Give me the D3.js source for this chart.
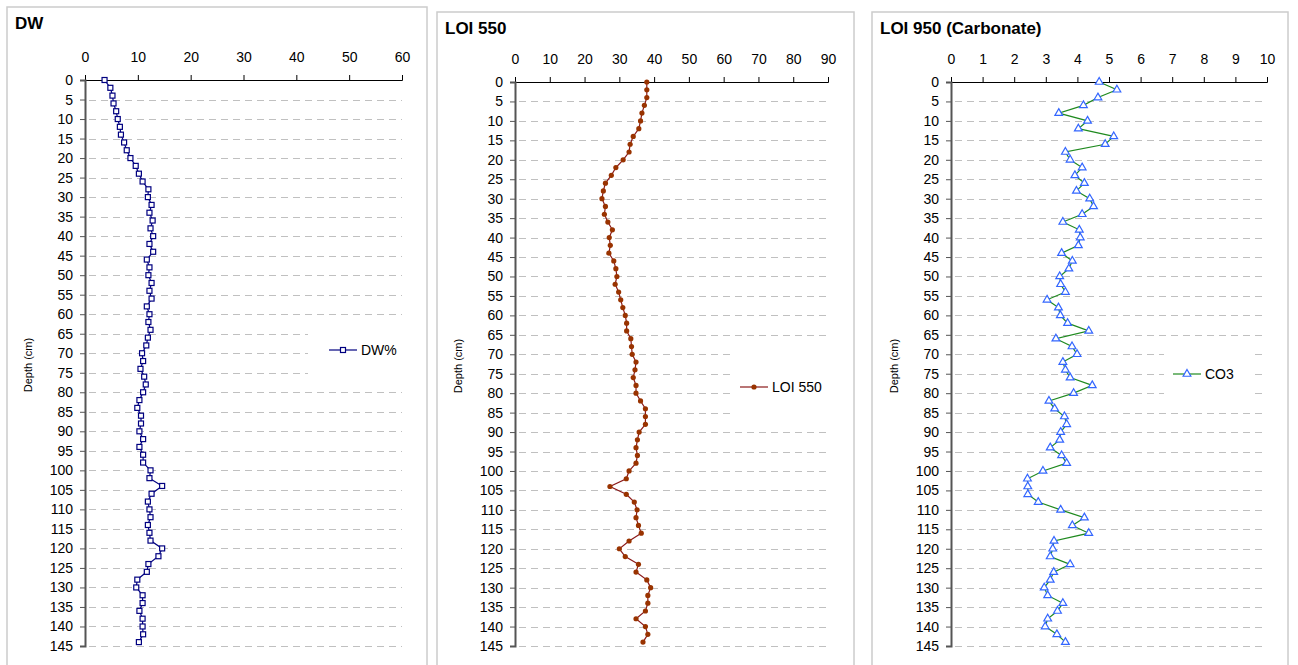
<!DOCTYPE html>
<html>
<head>
<meta charset="utf-8">
<script src="https://cdn.jsdelivr.net/npm/d3@7"></script>
<style>
  body { margin: 0; background: #fff; }
  svg { font-family: "Liberation Sans", Arial, sans-serif; }
</style>
</head>
<body>
<script>
// depth of each sample (cm)
var depths = [0, 2, 4, 6, 8, 10, 12, 14, 16, 18, 20, 22, 24, 26, 28, 30, 32, 34, 36, 38,
	40, 42, 44, 46, 48, 50, 52, 54, 56, 58, 60, 62, 64, 66, 68, 70, 72, 74, 76, 78,
	80, 82, 84, 86, 88, 90, 92, 94, 96, 98, 100, 102, 104, 106, 108, 110, 112, 114, 116, 118,
	120, 122, 124, 126, 128, 130, 132, 134, 136, 138, 140, 142, 144];

// dry weight %
var dw = [3.7, 4.8, 5.2, 5.4, 5.9, 6.2, 6.6, 6.8, 7.4, 7.9, 8.6, 9.6, 10.2, 10.9, 12.0, 11.9, 12.6, 12.2, 12.8, 12.4,
	12.9, 12.2, 12.9, 11.7, 12.2, 12.0, 12.6, 12.2, 12.6, 11.7, 12.2, 12.0, 12.4, 11.9, 11.6, 10.8, 11.0, 10.5, 11.2, 11.5,
	11.0, 10.3, 9.9, 10.6, 10.6, 10.3, 11.0, 10.3, 11.0, 11.0, 12.4, 12.2, 14.6, 12.6, 11.9, 12.2, 12.4, 11.9, 12.2, 12.4,
	14.6, 13.9, 12.0, 11.7, 9.9, 9.7, 10.9, 10.9, 10.3, 10.9, 10.9, 11.0, 10.2];

// loss on ignition 550
var loi550 = [37.9, 37.9, 37.9, 37.2, 36.5, 36.1, 35.6, 34.0, 33.1, 32.8, 31.1, 29.0, 27.7, 26.0, 25.4, 25.0, 26.0, 25.7, 26.7, 28.0,
	27.1, 27.4, 27.0, 28.4, 29.0, 29.3, 28.8, 29.8, 30.4, 31.0, 31.7, 32.1, 32.1, 33.3, 33.5, 33.7, 34.8, 34.5, 34.0, 34.8,
	34.8, 36.1, 37.5, 37.5, 37.5, 35.7, 35.2, 34.8, 35.2, 34.8, 32.8, 32.0, 27.3, 32.0, 34.3, 35.1, 34.8, 35.5, 36.3, 32.8,
	30.0, 31.7, 35.5, 34.8, 37.9, 39.0, 38.2, 38.2, 37.5, 34.8, 37.5, 38.2, 36.8];

// loss on ignition 950 (carbonate)
var co3 = [4.69, 5.25, 4.65, 4.19, 3.41, 4.32, 4.03, 5.15, 4.88, 3.62, 3.77, 4.15, 3.92, 4.22, 3.97, 4.39, 4.51, 4.15, 3.54, 4.06,
	4.09, 4.03, 3.50, 3.84, 3.73, 3.44, 3.47, 3.62, 3.04, 3.40, 3.46, 3.69, 4.36, 3.32, 3.83, 3.99, 3.54, 3.62, 3.77, 4.47,
	3.88, 3.10, 3.28, 3.59, 3.66, 3.47, 3.44, 3.14, 3.50, 3.66, 2.91, 2.42, 2.43, 2.43, 2.76, 3.47, 4.22, 3.84, 4.36, 3.26,
	3.22, 3.14, 3.77, 3.25, 3.14, 2.95, 3.06, 3.54, 3.37, 3.06, 2.98, 3.35, 3.62];

var titles = ['DW', 'LOI 550', 'LOI 950 (Carbonate)'];
var seriesNames = ['DW%', 'LOI 550', 'CO3'];
var xMax = [60, 90, 10];
var xMajor = [10, 10, 1];
var xMinor = [2, 2, 0.5];
var depthMax = 145;

var width = 1298,
	height = 665;

var svg = d3.select('body')
	.append('svg')
	.attr('width', width)
	.attr('height', height);

// layout of each panel
var panels = [
	{ box: [7, 7, 420], plotX: [85, 402], plotY: [80, 646], titleY: 29, labelX: 32,
		legend: { box: [308, 318, 105, 66], x: 329, y: 350 } },
	{ box: [437, 12, 417], plotX: [515, 828], plotY: [82, 646], titleY: 34, labelX: 462,
		legend: { box: [735, 352, 112, 66], x: 740, y: 387 } },
	{ box: [872, 12, 416], plotX: [951, 1267], plotY: [82, 646], titleY: 34, labelX: 898,
		legend: { box: [1164, 342, 90, 64], x: 1173, y: 374 } }
];

var values = [dw, loi550, co3];

// marker shapes for each series
var markers = [
	function(g) {
		g.append('rect').attr('x', -2.5).attr('y', -2.5).attr('width', 5).attr('height', 5)
			.attr('fill', '#fff').attr('stroke', '#000080').attr('stroke-width', 1.2);
	},
	function(g) {
		g.append('circle').attr('r', 2.6).attr('fill', '#993300').attr('stroke', 'none');
	},
	function(g) {
		g.append('path').attr('d', d3.symbol().type(d3.symbolTriangle).size(26))
			.attr('fill', '#fff').attr('stroke', '#3366ff').attr('stroke-width', 1.2);
	}
];
var lineColors = ['#000080', '#8b1a1a', '#1f8a1f'];

panels.forEach(function(p, i) {
	var g = svg.append('g');

	// panel frame
	g.append('rect')
		.attr('x', p.box[0]).attr('y', p.box[1])
		.attr('width', p.box[2]).attr('height', 700)
		.attr('fill', '#fff')
		.attr('stroke', '#cccccc')
		.attr('stroke-width', 1.5);

	g.append('text')
		.attr('x', p.box[0] + 8).attr('y', p.titleY)
		.attr('font-size', 17).attr('font-weight', 'bold')
		.text(titles[i]);

	var x = d3.scaleLinear().domain([0, xMax[i]]).range(p.plotX);
	var y = d3.scaleLinear().domain([0, depthMax]).range(p.plotY);

	var majorX = d3.range(0, xMax[i] + 1e-9, xMajor[i]);
	var minorX = d3.range(0, xMax[i] + 1e-9, xMinor[i]);
	var majorY = d3.range(0, depthMax + 1e-9, 5);
	var minorY = d3.range(0, depthMax + 1e-9, 2.5);

	// dashed gridlines
	g.append('g').selectAll('line')
		.data(majorY.slice(1))
		.enter().append('line')
		.attr('x1', p.plotX[0] + 4).attr('x2', p.plotX[1])
		.attr('y1', function(d) { return Math.round(y(d)) + 0.5; })
		.attr('y2', function(d) { return Math.round(y(d)) + 0.5; })
		.attr('stroke', '#c0c0c0')
		.attr('stroke-dasharray', '7,5');

	// top axis
	var xa = g.append('g')
		.attr('transform', 'translate(0,' + p.plotY[0] + ')');
	xa.call(d3.axisTop(x).tickValues(minorX).tickSize(4).tickFormat(''));
	xa.call(d3.axisTop(x).tickValues(majorX).tickSize(5).tickPadding(13)
		.tickFormat(d3.format('d')));
	xa.selectAll('text').attr('font-size', 14).attr('fill', '#000')
		.attr('font-family', '"Liberation Sans", Arial, sans-serif');
	xa.selectAll('path, line').attr('stroke', '#000');

	// left axis
	var ya = g.append('g')
		.attr('transform', 'translate(' + p.plotX[0] + ',0)');
	ya.call(d3.axisLeft(y).tickValues(minorY).tickSize(4).tickFormat(''));
	ya.call(d3.axisLeft(y).tickValues(majorY).tickSize(5).tickPadding(7)
		.tickFormat(d3.format('d')));
	ya.selectAll('text').attr('font-size', 14).attr('fill', '#000')
		.attr('font-family', '"Liberation Sans", Arial, sans-serif');
	ya.selectAll('line').attr('stroke', '#555');
	ya.selectAll('path').attr('stroke', '#555').attr('stroke-width', 2);

	g.append('text')
		.attr('transform', 'translate(' + p.labelX + ',' + ((p.plotY[0] + p.plotY[1]) / 2 + 2) + ') rotate(-90)')
		.attr('text-anchor', 'middle')
		.attr('font-size', 11)
		.text('Depth (cm)');

	// legend background
	g.append('rect')
		.attr('x', p.legend.box[0]).attr('y', p.legend.box[1])
		.attr('width', p.legend.box[2]).attr('height', p.legend.box[3])
		.attr('fill', '#fff');

	// series line
	var line = d3.line()
		.x(function(d) { return x(d); })
		.y(function(d, j) { return y(depths[j]); });

	g.append('path')
		.datum(values[i])
		.attr('d', line)
		.attr('fill', 'none')
		.attr('stroke', lineColors[i])
		.attr('stroke-width', 1.2);

	g.append('g').selectAll('g')
		.data(values[i])
		.enter().append('g')
		.attr('transform', function(d, j) { return 'translate(' + x(d) + ',' + y(depths[j]) + ')'; })
		.each(function() { markers[i](d3.select(this)); });

	// legend
	var lg = g.append('g').attr('transform', 'translate(' + p.legend.x + ',' + p.legend.y + ')');
	lg.append('line').attr('x1', 0).attr('x2', 28)
		.attr('stroke', lineColors[i]).attr('stroke-width', 1.2);
	markers[i](lg.append('g').attr('transform', 'translate(14,0)'));
	lg.append('text').attr('x', 32).attr('y', 5)
		.attr('font-size', 14)
		.text(seriesNames[i]);
});
</script>
</body>
</html>
